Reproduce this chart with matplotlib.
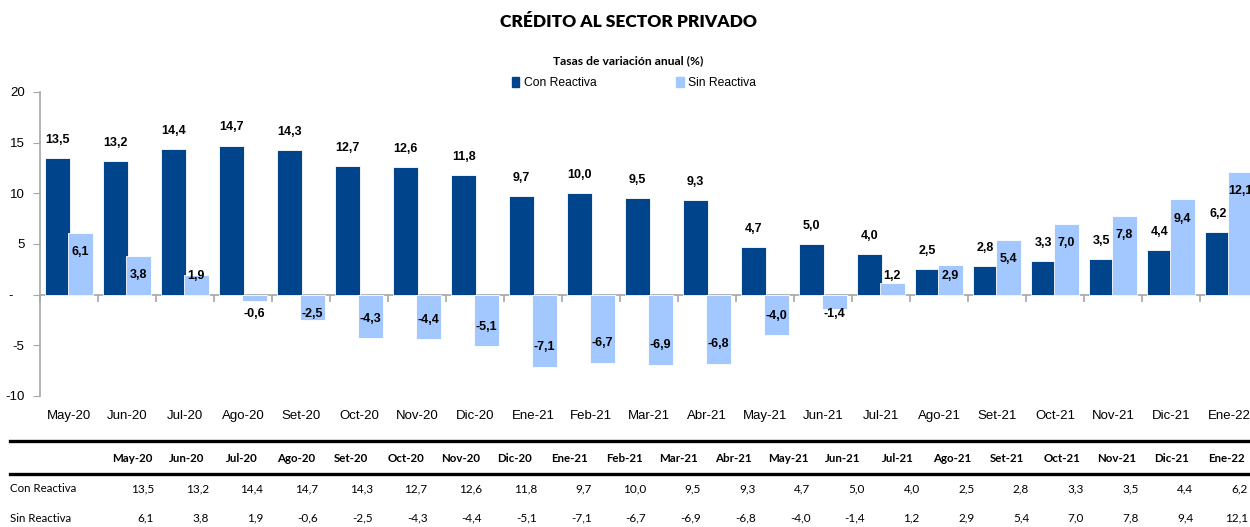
import numpy as np
import matplotlib
matplotlib.use("Agg")
import matplotlib.pyplot as plt
from matplotlib.lines import Line2D
from matplotlib.patches import Patch

# --- data ---
meses = ["May-20", "Jun-20", "Jul-20", "Ago-20", "Set-20", "Oct-20", "Nov-20",
         "Dic-20", "Ene-21", "Feb-21", "Mar-21", "Abr-21", "May-21", "Jun-21",
         "Jul-21", "Ago-21", "Set-21", "Oct-21", "Nov-21", "Dic-21", "Ene-22"]
con_reactiva = [13.5, 13.2, 14.4, 14.7, 14.3, 12.7, 12.6, 11.8, 9.7, 10.0, 9.5,
                9.3, 4.7, 5.0, 4.0, 2.5, 2.8, 3.3, 3.5, 4.4, 6.2]
sin_reactiva = [6.1, 3.8, 1.9, -0.6, -2.5, -4.3, -4.4, -5.1, -7.1, -6.7, -6.9,
                -6.8, -4.0, -1.4, 1.2, 2.9, 5.4, 7.0, 7.8, 9.4, 12.1]
y_ticks = [-10, -5, 0, 5, 10, 15, 20]
y_labels = ["-10", "-5", "-   ", "5", "10", "15", "20"]

DARK = "#00458C"
LIGHT = "#A3C8FF"
GRAY = "#A6A6A6"
ARIAL = ["Liberation Sans", "DejaVu Sans"]
CALIBRI = ["Lato", "DejaVu Sans"]

W, H = 1250, 527


def fmt(v):
    return f"{v:.1f}".replace(".", ",")


def fx(px):
    return px / W


def fy(py):
    return 1 - py / H


fig = plt.figure(figsize=(12.5, 5.27), dpi=100)
ax = fig.add_axes([fx(40), fy(396), (1258 - 40) / W, (396 - 92) / H])

x = np.arange(len(meses))
off, bw = 0.195, 0.44
ax.bar(x - off, con_reactiva, bw, color=DARK, edgecolor="white", linewidth=0.6, zorder=2)
ax.bar(x + off, sin_reactiva, bw, color=LIGHT, edgecolor="white", linewidth=0.6, zorder=3)

# data labels
for i, v in enumerate(con_reactiva):
    ax.text(x[i] - off, v + 1.8, fmt(v), ha="center", va="center",
            fontsize=9, fontweight="bold", family=ARIAL, zorder=5)
for i, v in enumerate(sin_reactiva):
    ly = max(v - 1.9, 1.8) if v > 0 else min(v + 1.9, -1.9)
    ax.text(x[i] + off, ly, fmt(v), ha="center", va="center",
            fontsize=9, fontweight="bold", family=ARIAL, zorder=5)

ax.set_xlim(-0.5, len(meses) - 0.5)
ax.set_ylim(-10, 20)
ax.set_yticks(y_ticks)
ax.set_yticklabels(y_labels, family=ARIAL, fontsize=9.5)
ax.tick_params(axis="y", length=5, color=GRAY, pad=6)
ax.set_xticks(x)
ax.set_xticklabels(meses, family=ARIAL, fontsize=9.5)
ax.tick_params(axis="x", length=0, pad=10)
for s in ["top", "right", "bottom"]:
    ax.spines[s].set_visible(False)
ax.spines["left"].set_color(GRAY)
ax.spines["left"].set_linewidth(1.2)

# zero axis with boundary ticks
sec = ax.secondary_xaxis(10 / 30)
sec.set_xticks(np.arange(len(meses) + 1) - 0.5)
sec.set_xticklabels([])
sec.tick_params(length=5, color=GRAY, width=1.2)
sec.spines["bottom"].set_color(GRAY)
sec.spines["bottom"].set_linewidth(1.2)

# title, subtitle, legend
fig.text(fx(628), fy(22), "CRÉDITO AL SECTOR PRIVADO", ha="center", va="center",
         fontsize=12.5, fontweight="heavy", family=CALIBRI)
fig.text(fx(628), fy(61), "Tasas de variación anual (%)", ha="center", va="center",
         fontsize=8.7, fontweight="bold", family=CALIBRI)
handles = [Patch(color=DARK, label="Con Reactiva"), Patch(color=LIGHT, label="Sin Reactiva")]
leg = fig.legend(handles=handles, loc="center", bbox_to_anchor=(fx(634), fy(83)), ncol=2,
                 frameon=False, prop={"family": ARIAL, "size": 8.7},
                 handlelength=0.6, handleheight=0.9, handletextpad=0.4,
                 columnspacing=6.6, borderpad=0)

# table below the chart
fig.add_artist(Line2D([fx(10), fx(1250)], [fy(441), fy(441)], color="black", lw=2.4))
fig.add_artist(Line2D([fx(10), fx(1250)], [fy(474), fy(474)], color="black", lw=2.4))
col_right = 154 + 54.7 * x
for i, m in enumerate(meses):
    fig.text(fx(col_right[i] - 22), fy(459), m, ha="center", va="center",
             fontsize=8.3, fontweight="bold", family=CALIBRI)
    fig.text(fx(col_right[i]), fy(489), fmt(con_reactiva[i]), ha="right", va="center",
             fontsize=8.5, family=CALIBRI)
    fig.text(fx(col_right[i]), fy(518), fmt(sin_reactiva[i]), ha="right", va="center",
             fontsize=8.5, family=CALIBRI)
fig.text(fx(10), fy(489), "Con Reactiva", ha="left", va="center", fontsize=8.3, family=CALIBRI)
fig.text(fx(10), fy(518), "Sin Reactiva", ha="left", va="center", fontsize=8.3, family=CALIBRI)

fig.savefig("out.png", dpi=100)
